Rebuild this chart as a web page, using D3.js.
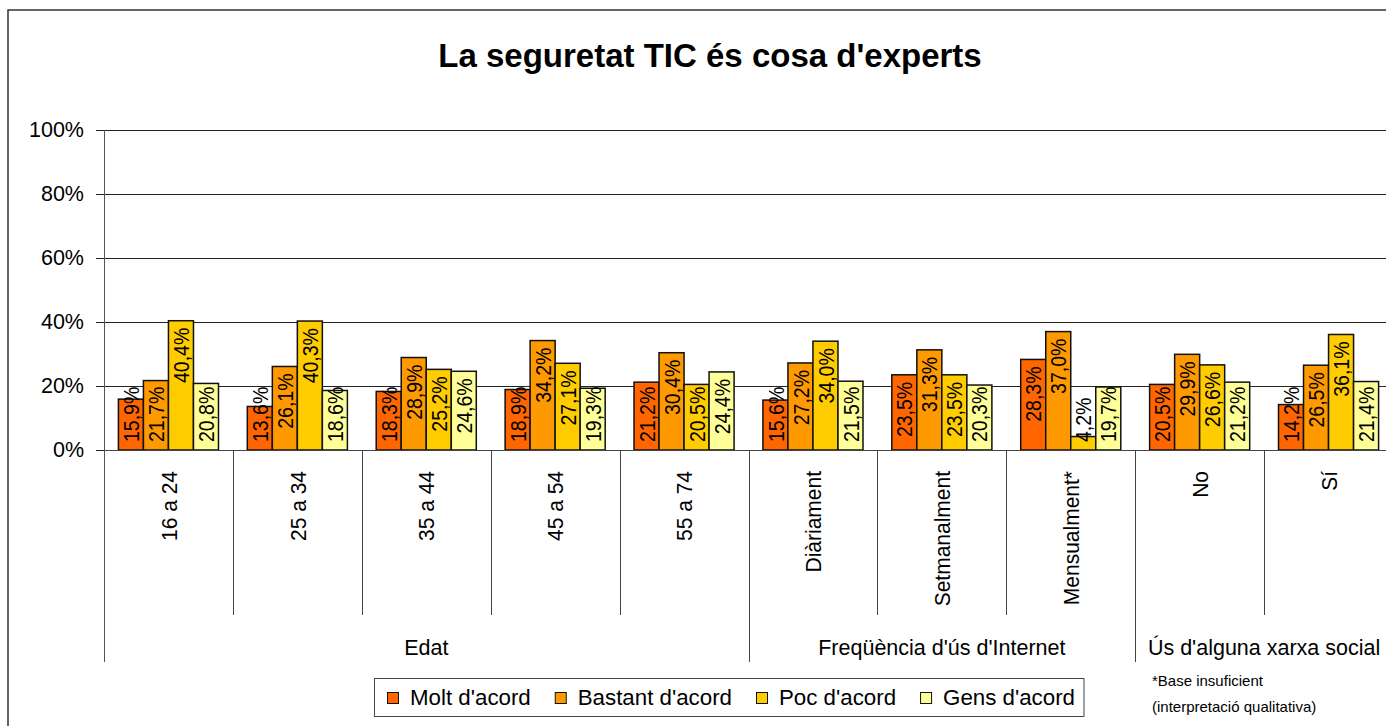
<!DOCTYPE html>
<html lang="ca">
<head>
<meta charset="UTF-8">
<title>La seguretat TIC és cosa d'experts</title>
<style>
    body { margin: 0; background: #fff; }
    text { font-family: "Liberation Sans", Arial, sans-serif; fill: #000; }
</style>
</head>
<body>
<script src="https://cdn.jsdelivr.net/npm/d3@7/dist/d3.min.js"></script>
<script>
    // data
    let categories = ["16 a 24", "25 a 34", "35 a 44", "45 a 54", "55 a 74",
        "Diàriament", "Setmanalment", "Mensualment*", "No", "Sí"];
    let groups = ["Edat", "Edat", "Edat", "Edat", "Edat",
        "Freqüència d'ús d'Internet", "Freqüència d'ús d'Internet", "Freqüència d'ús d'Internet",
        "Ús d'alguna xarxa social", "Ús d'alguna xarxa social"];
    let seriesNames = ["Molt d'acord", "Bastant d'acord", "Poc d'acord", "Gens d'acord"];
    let molt = [15.9, 13.6, 18.3, 18.9, 21.2, 15.6, 23.5, 28.3, 20.5, 14.2];
    let bastant = [21.7, 26.1, 28.9, 34.2, 30.4, 27.2, 31.3, 37.0, 29.9, 26.5];
    let poc = [40.4, 40.3, 25.2, 27.1, 20.5, 34.0, 23.5, 4.2, 26.6, 36.1];
    let gens = [20.8, 18.6, 24.6, 19.3, 24.4, 21.5, 20.3, 19.7, 21.2, 21.4];
    let yTicks = [0, 20, 40, 60, 80, 100];
    let colors = ["#FF6600", "#FF9900", "#FFCC00", "#FFFF99"];

    let width = 1386;
    let height = 726;
    let plot = {left: 104, right: 1393, top: 130, bottom: 450};

    let svg = d3.select("body").append("svg")
        .attr("width", width)
        .attr("height", height);

    // chart border (runs off the right and bottom edge)
    svg.append("rect")
        .attr("x", 8).attr("y", 10)
        .attr("width", 1420).attr("height", 800)
        .attr("fill", "none").attr("stroke", "#333").attr("stroke-width", 1.5);

    svg.append("text")
        .attr("x", 710).attr("y", 67)
        .attr("text-anchor", "middle")
        .attr("font-size", 33).attr("font-weight", "bold")
        .text("La seguretat TIC és cosa d'experts");

    let x = d3.scaleBand()
        .domain(d3.range(categories.length))
        .range([plot.left, plot.right])
        .padding(0);
    let xs = d3.scaleBand()
        .domain(d3.range(seriesNames.length))
        .range([0, x.bandwidth()])
        .paddingInner(0)
        .paddingOuter(0.576);
    let y = d3.scaleLinear().domain([0, 100]).range([plot.bottom, plot.top]);

    // gridlines + y axis
    let yAxis = svg.append("g")
        .attr("transform", "translate(" + plot.left + ",0)")
        .call(d3.axisLeft(y).tickValues(yTicks).tickSizeOuter(0).tickSize(8)
            .tickFormat(d => d + "%"));
    yAxis.select(".domain").remove();
    yAxis.selectAll(".tick line").attr("stroke", "#222");
    yAxis.selectAll(".tick text")
        .attr("x", -20)
        .attr("font-size", 21.5)
        .attr("font-family", "Liberation Sans, Arial, sans-serif");
    svg.append("g").selectAll("line")
        .data(yTicks.slice(1))
        .enter().append("line")
        .attr("x1", plot.left).attr("x2", width)
        .attr("y1", d => y(d) + 0.5).attr("y2", d => y(d) + 0.5)
        .attr("stroke", "#222").attr("stroke-width", 1);

    // bars
    let seriesData = [molt, bastant, poc, gens];
    let bars = [];
    seriesData.forEach((vals, s) => {
        vals.forEach((v, i) => bars.push({s: s, i: i, v: v}));
    });
    svg.append("g").selectAll("rect")
        .data(bars)
        .enter().append("rect")
        .attr("x", d => x(d.i) + xs(d.s))
        .attr("y", d => y(d.v))
        .attr("width", xs.bandwidth())
        .attr("height", d => y(0) - y(d.v))
        .attr("fill", d => colors[d.s])
        .attr("stroke", "#111").attr("stroke-width", 1.5);

    // value labels, rotated, near the top of each bar but kept above the axis
    let fmt = v => v.toFixed(1).replace(".", ",") + "%";
    let labels = svg.append("g").selectAll("text")
        .data(bars)
        .enter().append("text")
        .attr("font-size", 19.5)
        .attr("text-anchor", "start")
        .attr("dy", "0.36em")
        .text(d => fmt(d.v));
    labels.each(function (d) {
        let len = this.getComputedTextLength();
        let start = Math.min(y(d.v) + 7 + len, plot.bottom - 8);
        let cx = x(d.i) + xs(d.s) + xs.bandwidth() / 2;
        d3.select(this).attr("transform",
            "translate(" + cx + "," + start + ") rotate(-90) scale(1,1.15)");
    });

    // x axis line + category separators
    svg.append("line")
        .attr("x1", plot.left).attr("x2", width)
        .attr("y1", plot.bottom + 0.5).attr("y2", plot.bottom + 0.5)
        .attr("stroke", "#444");
    svg.append("line")
        .attr("x1", plot.left + 0.5).attr("x2", plot.left + 0.5)
        .attr("y1", plot.top).attr("y2", 662)
        .attr("stroke", "#555");
    let seps = d3.range(1, categories.length + 1);
    svg.append("g").selectAll("line")
        .data(seps)
        .enter().append("line")
        .attr("x1", i => Math.round(x(0) + i * x.step()) + 0.5)
        .attr("x2", i => Math.round(x(0) + i * x.step()) + 0.5)
        .attr("y1", plot.bottom)
        .attr("y2", i => (i < categories.length && groups[i] !== groups[i - 1]) ? 662 : 615)
        .attr("stroke", "#444");

    svg.append("g").selectAll("text")
        .data(categories)
        .enter().append("text")
        .attr("font-size", 21)
        .attr("text-anchor", "end")
        .attr("dy", "0.36em")
        .attr("transform", (d, i) => "translate(" + (x(i) + x.bandwidth() / 2) + ",471) rotate(-90) scale(1,1.08)")
        .text(d => d);

    // group labels
    let groupNames = Array.from(new Set(groups));
    svg.append("g").selectAll("text")
        .data(groupNames)
        .enter().append("text")
        .attr("font-size", 21.5)
        .attr("text-anchor", "middle")
        .attr("x", g => {
            let idx = groups.map((d, i) => d === g ? i : -1).filter(i => i >= 0);
            return (x(idx[0]) + x(idx[idx.length - 1]) + x.bandwidth()) / 2;
        })
        .attr("y", 655)
        .text(g => g);

    // legend
    let legend = svg.append("g");
    let legendBox = legend.append("rect")
        .attr("x", 374.5).attr("y", 678.5)
        .attr("height", 38)
        .attr("fill", "#fff").attr("stroke", "#444").attr("stroke-width", 1);
    let lx = 387;
    seriesNames.forEach((name, s) => {
        legend.append("rect")
            .attr("x", lx + 0.5).attr("y", 692.5)
            .attr("width", 11).attr("height", 11)
            .attr("fill", colors[s]).attr("stroke", "#111").attr("stroke-width", 1);
        let t = legend.append("text")
            .attr("x", lx + 23).attr("y", 705)
            .attr("font-size", 22.3)
            .text(name);
        lx += 23 + t.node().getComputedTextLength() + 24;
    });
    legendBox.attr("width", lx - 24 + 9 - 374.5);

    // footnote
    svg.append("text").attr("x", 1152).attr("y", 686).attr("font-size", 15).text("*Base insuficient");
    svg.append("text").attr("x", 1152).attr("y", 712).attr("font-size", 15).text("(interpretació qualitativa)");
</script>
</body>
</html>
